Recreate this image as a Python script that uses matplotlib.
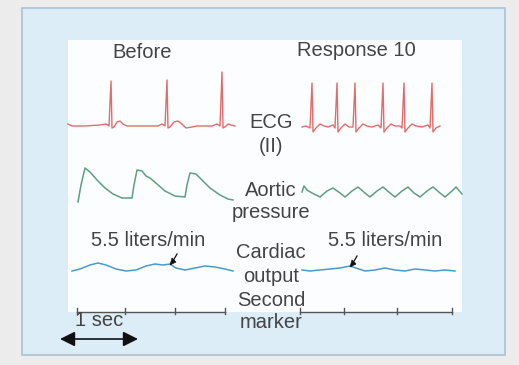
import matplotlib
matplotlib.use("Agg")
import matplotlib.pyplot as plt
from matplotlib.patches import Rectangle, Polygon

# ---- data (picture units: x to the right, y downward) ----
ecg_before_x = [68, 72, 85, 100, 106, 109, 111, 112, 114, 117, 120, 123, 127, 145, 158, 162, 165, 167, 168, 170,
                174, 178, 182, 186, 192, 197, 205, 212, 217, 220, 222, 223, 225, 228, 231, 235]
ecg_before_y = [124, 126, 126, 125, 124, 126, 81, 128, 127, 122, 121, 124, 126, 126, 126, 124, 126, 80, 128, 127,
                122, 121, 124, 128, 127, 126, 126, 126, 124, 126, 72, 128, 127, 124, 125, 126]

ecg_after_x = [302, 306, 310, 312, 313, 316, 320, 324, 328, 333, 335, 337, 338, 341, 345, 349, 353, 355, 356, 359,
               363, 367, 372, 378, 381, 383, 384, 387, 391, 395, 400, 402, 404, 405, 408, 412, 416, 422, 428, 430,
               432, 433, 436, 440]
ecg_after_y = [127, 126, 128, 83, 132, 128, 124, 126, 127, 125, 128, 83, 132, 128, 124, 127, 127, 83, 132, 128,
               124, 126, 127, 125, 128, 83, 132, 128, 124, 126, 126, 128, 83, 132, 128, 124, 126, 127, 125, 128,
               83, 132, 128, 126]

aortic_before_x = [78, 81, 85, 90, 97, 105, 113, 122, 132, 134, 137, 142, 146, 150, 157, 165, 175, 185, 187, 190,
                   196, 202, 210, 220, 228, 233]
aortic_before_y = [202, 185, 168, 172, 180, 188, 194, 198, 198, 185, 170, 171, 176, 178, 184, 191, 196, 197, 185, 173,
                   174, 180, 188, 195, 199, 200]

aortic_after_x = [302, 304, 307, 312, 320, 327, 333, 340, 345, 352, 358, 365, 370, 377, 383, 390, 395, 402, 408,
                  414, 420, 427, 433, 440, 445, 452, 456, 462]
aortic_after_y = [192, 186, 190, 193, 197, 191, 188, 193, 197, 191, 187, 193, 197, 191, 187, 193, 197, 191, 187,
                  193, 197, 191, 187, 193, 197, 191, 187, 194]

co_before_x = [72, 80, 90, 98, 106, 116, 126, 136, 146, 155, 163, 170, 176, 185, 195, 205, 215, 225, 233]
co_before_y = [271, 269, 265, 263, 265, 269, 271, 270, 266, 264, 265, 264, 268, 270, 268, 266, 267, 269, 271]

co_after_x = [302, 310, 320, 330, 340, 350, 356, 365, 375, 385, 395, 405, 415, 425, 435, 445, 455]
co_after_y = [270, 271, 270, 269, 268, 266, 268, 271, 270, 268, 270, 271, 269, 270, 271, 270, 271]

co_marker_x = [171, 351]
co_marker_y = [264, 266]

second_ticks_before = [77, 125, 175, 225]
second_ticks_after = [300, 344, 397, 452]

# ---- drawing ----
W, H = 519, 365
fig = plt.figure(figsize=(W / 100, H / 100), dpi=100)
fig.patch.set_facecolor("#ececec")
ax = fig.add_axes([0, 0, 1, 1])
ax.set_xlim(0, W)
ax.set_ylim(H, 0)
ax.axis("off")

ax.add_patch(Rectangle((22, 8), 483, 347, facecolor="#dcedf8", edgecolor="#a9c3d3", lw=1.2, zorder=0))
ax.add_patch(Rectangle((68, 40), 394, 272, facecolor="#fbfdff", edgecolor="none", zorder=0.5))

red = "#e26c6c"
green = "#5f9f7f"
blue = "#4a9bcb"
txt = "#444444"

ax.plot(ecg_before_x, ecg_before_y, color=red, lw=1.0)
ax.plot(ecg_after_x, ecg_after_y, color=red, lw=1.0)
ax.plot(aortic_before_x, aortic_before_y, color=green, lw=1.1)
ax.plot(aortic_after_x, aortic_after_y, color=green, lw=1.1)
ax.plot(co_before_x, co_before_y, color=blue, lw=1.1)
ax.plot(co_after_x, co_after_y, color=blue, lw=1.1)

# second marker
ax.plot([second_ticks_before[0], second_ticks_before[-1]], [312, 312], color="#555555", lw=1.0)
ax.plot([second_ticks_after[0], second_ticks_after[-1]], [312, 312], color="#555555", lw=1.0)
for tx in second_ticks_before + second_ticks_after:
    ax.plot([tx, tx], [308, 314], color="#555555", lw=1.0)

# cardiac output markers: short stem with a dark arrowhead pointing down-left
for mx, my in zip(co_marker_x, co_marker_y):
    ax.plot([mx + 2, mx + 6], [my - 3, my - 10], color="#111111", lw=0.9, zorder=5)
    ax.add_patch(Polygon([(mx - 1, my + 1), (mx + 5, my - 2), (mx + 1, my - 6)], closed=True,
                         facecolor="#111111", edgecolor="#111111", lw=0.5, zorder=5))

# 1 sec arrow
ax.annotate("", xy=(138, 339), xytext=(60, 339),
            arrowprops=dict(arrowstyle="<|-|>,head_length=0.9,head_width=0.45", color="#111111", lw=1.2,
                            shrinkA=0, shrinkB=0))

fs = 14.5
fam = ["Liberation Sans", "DejaVu Sans"]
labels = [("Before", 142, 53), ("Response 10", 356, 50),
          ("ECG", 271, 122), ("(II)", 271, 147),
          ("Aortic", 271, 190), ("pressure", 271, 212),
          ("5.5 liters/min", 148, 241), ("5.5 liters/min", 385, 240),
          ("Cardiac", 271, 253), ("output", 271, 277),
          ("Second", 271, 300), ("marker", 271, 323),
          ("1 sec", 99, 321)]
for s, x, y in labels:
    ax.text(x, y, s, ha="center", va="center", fontsize=fs, color=txt, family=fam)

fig.savefig("out.png", dpi=100, facecolor=fig.get_facecolor())
